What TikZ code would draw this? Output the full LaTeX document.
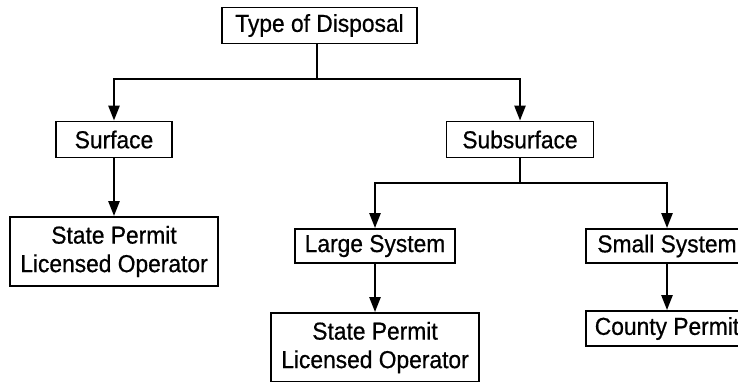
\documentclass[tikz,border=0pt]{standalone}
\usepackage{fontspec}
\setmainfont[FakeStretch=0.93,FakeBold=0.6]{Liberation Sans}
\usetikzlibrary{arrows.meta}
\tikzset{box/.style={draw,line width=1.8pt,inner sep=0pt,align=center,font=\fontsize{24.5}{28.5}\selectfont},
  arr/.style={line width=2.4pt,-{Triangle[length=15pt,width=11pt]}}}
\begin{document}
\begin{tikzpicture}[x=1pt,y=-1pt]
\clip (0,0) rectangle (738,381);
\fill[white] (0,0) rectangle (738,381);
%\draw[help lines,step=50] (0,0) grid (738,381);
\node[box,minimum width=195pt,minimum height=36pt] (tod) at (319.5,25.5) {Type of Disposal};
\node[box,minimum width=116pt,minimum height=36pt] (surf) at (114,139.5) {Surface};
\node[box,minimum width=147pt,minimum height=36pt] (subs) at (520,139.5) {Subsurface};
\node[box,minimum width=208pt,minimum height=69pt] (sp1) at (114,251.5) {State Permit\\Licensed Operator};
\node[box,minimum width=160pt,minimum height=34pt] (large) at (375,246) {Large System};
\node[box,minimum width=162pt,minimum height=34pt] (small) at (667,246) {Small System};
\node[box,minimum width=208pt,minimum height=69pt] (sp2) at (375,347.5) {State Permit\\Licensed Operator};
\node[box,minimum width=162pt,minimum height=35pt] (county) at (667,328.5) {County Permit};
\coordinate (j1) at (317,79);
\coordinate (j2) at (520,183);
\draw[line width=2.4pt] (tod.south -| j1) -- (j1);
\draw[arr] (j1) -| (surf);
\draw[arr] (j1) -| (subs);
\draw[arr] (surf) -- (sp1);
\draw[line width=2.4pt] (subs) -- (j2);
\draw[arr] (j2) -| (large);
\draw[arr] (j2) -| (small);
\draw[arr] (large) -- (sp2);
\draw[arr] (small) -- (county);
\end{tikzpicture}
\end{document}
